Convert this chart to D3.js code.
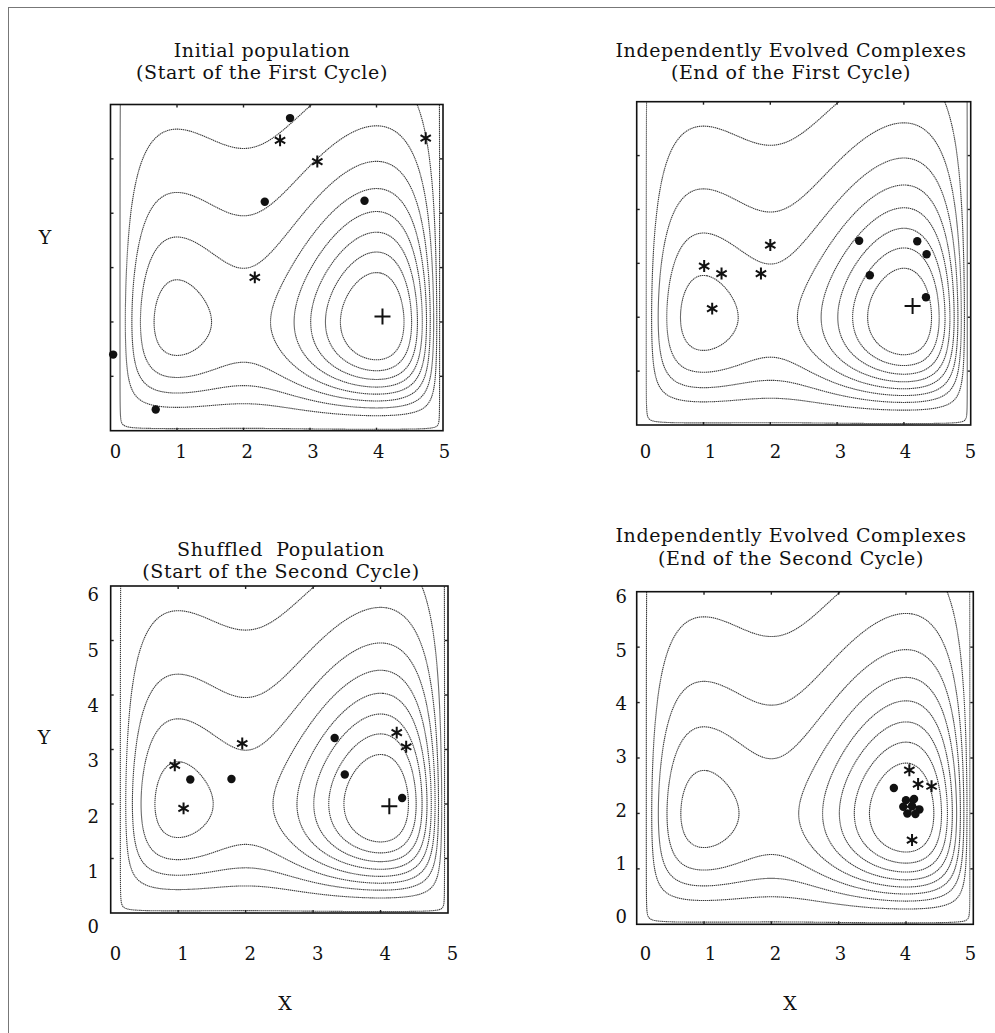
<!DOCTYPE html>
<html>
<head>
<meta charset="utf-8">
<script src="https://cdn.jsdelivr.net/npm/d3@7"></script>
<style>
  html, body { margin: 0; padding: 0; background: #fff; }
  svg text { font-family: "DejaVu Serif", serif; fill: #111; }
</style>
</head>
<body>
<svg id="chart" width="995" height="1033"></svg>
<script>
// ---- data -------------------------------------------------------------
const xDomain = [0, 5];
const yDomain = [0, 6];
// objective-function levels drawn as contour lines
const contourLevels = [0, -0.25, -0.5, -0.75, -1.0, -1.25, -1.5, -1.75, -2.0];
const xTickValues = [0, 1, 2, 3, 4, 5];
const yTickValues = [0, 1, 2, 3, 4, 5, 6];

const titleLines = [
  ["Initial population", "(Start of the First Cycle)"],
  ["Independently Evolved Complexes", "(End of the First Cycle)"],
  ["Shuffled  Population", "(Start of the Second Cycle)"],
  ["Independently Evolved Complexes", "(End of the Second Cycle)"]
];

// complex A members (filled dots) and complex B members (asterisks)
const dotsP1  = [[2.70, 5.75], [2.32, 4.21], [3.82, 4.23], [0.04, 1.40], [0.68, 0.39]];
const starsP1 = [[2.55, 5.34], [3.11, 4.95], [4.74, 5.38], [2.17, 2.82]];
const dotsP2  = [[3.33, 3.42], [4.20, 3.41], [4.34, 3.17], [3.49, 2.78], [4.33, 2.37]];
const starsP2 = [[2.00, 3.34], [1.01, 2.95], [1.27, 2.81], [1.86, 2.81], [1.13, 2.16]];
const dotsP3  = [[1.18, 2.45], [1.79, 2.46], [3.32, 3.21], [3.47, 2.54], [4.32, 2.11]];
const starsP3 = [[1.95, 3.11], [0.95, 2.71], [1.08, 1.92], [4.24, 3.31], [4.38, 3.05]];
const dotsP4  = [[3.82, 2.46], [4.00, 2.24], [4.12, 2.26], [3.96, 2.12], [4.09, 2.13],
                 [4.20, 2.07], [4.02, 2.00], [4.14, 1.99]];
const starsP4 = [[4.05, 2.78], [4.18, 2.53], [4.38, 2.49], [4.09, 1.52]];
// global optimum marker (+) per panel
const optimumMarks = [[4.09, 2.10], [4.13, 2.21], [4.13, 1.96], [4.07, 2.12]];

// ---- layout -------------------------------------------------------------
const panels = [
  { frame: [110.5, 104.5, 443, 430.7], titleX: 262, titleY: [57, 79],
    xLab: [115, 444], xLabY: 459, yLab: null, dots: dotsP1, stars: starsP1 },
  { frame: [636.7, 101.7, 970.7, 425], titleX: 791, titleY: [57, 79],
    xLab: [645, 970], xLabY: 459, yLab: null, dots: dotsP2, stars: starsP2 },
  { frame: [110.7, 586, 448, 913], titleX: 281, titleY: [556, 578],
    xLab: [115, 452], xLabY: 961, yLab: { x: 99, range: [927, 595] }, dots: dotsP3, stars: starsP3 },
  { frame: [636.7, 591.7, 973.3, 924.3], titleX: 791, titleY: [542, 565],
    xLab: [645, 970], xLabY: 961, yLab: { x: 627, range: [917, 597] }, dots: dotsP4, stars: starsP4 }
];

const svg = d3.select("#chart");

// figure border
svg.append("rect")
  .attr("x", 8.5).attr("y", 7.5).attr("width", 1100).attr("height", 1100)
  .attr("fill", "none").attr("stroke", "#777").attr("stroke-width", 1);

// ---- Hosaki objective surface sampled on a grid ---------------------------
function hosaki(x, y) {
  return (1 - 8 * x + 7 * x * x - (7 / 3) * x ** 3 + 0.25 * x ** 4) * y * y * Math.exp(-y);
}
const step = 0.01, gx0 = -0.1, gy0 = -0.1;
const nx = Math.round((5.1 - gx0) / step) + 1;
const ny = Math.round((6.1 - gy0) / step) + 1;
const grid = new Float64Array(nx * ny);
for (let j = 0; j < ny; j++) {
  for (let i = 0; i < nx; i++) {
    grid[j * nx + i] = -hosaki(gx0 + i * step, gy0 + j * step);
  }
}
const thresholds = contourLevels.map(l => (l === 0 ? 0.003 : -l));
const contourSets = d3.contours().size([nx, ny]).thresholds(thresholds)(grid);

const line = d3.line();

panels.forEach((p, k) => {
  const [fx0, fy0, fx1, fy1] = p.frame;
  const x = d3.scaleLinear().domain(xDomain).range([fx0, fx1]);
  const y = d3.scaleLinear().domain(yDomain).range([fy1, fy0]);
  const g = svg.append("g");

  const clipId = "clip" + k;
  svg.append("clipPath").attr("id", clipId)
    .append("rect").attr("x", fx0).attr("y", fy0)
    .attr("width", fx1 - fx0).attr("height", fy1 - fy0);

  // contour lines
  const toPx = c => [x(gx0 + (c[0] - 0.5) * step), y(gy0 + (c[1] - 0.5) * step)];
  const cg = g.append("g").attr("clip-path", `url(#${clipId})`);
  contourSets.forEach(mp => {
    mp.coordinates.forEach(poly => poly.forEach(ring => {
      cg.append("path")
        .attr("d", line(ring.map(toPx)) + "Z")
        .attr("fill", "none")
        .attr("stroke", "#3c3c3c")
        .attr("stroke-width", 1.1)
        .attr("stroke-dasharray", "1.4 0.6");
    }));
  });

  // frame
  g.append("rect")
    .attr("x", fx0).attr("y", fy0).attr("width", fx1 - fx0).attr("height", fy1 - fy0)
    .attr("fill", "none").attr("stroke", "#111").attr("stroke-width", 1.6);

  // inner tick marks on all four sides
  const innerX = xTickValues.slice(1, -1), innerY = yTickValues.slice(1, -1);
  const tickG = g.append("g").attr("stroke", "#222").attr("stroke-width", 1.4);
  innerX.forEach(v => {
    tickG.append("line").attr("x1", x(v)).attr("x2", x(v)).attr("y1", fy0).attr("y2", fy0 + 3);
    tickG.append("line").attr("x1", x(v)).attr("x2", x(v)).attr("y1", fy1).attr("y2", fy1 - 3);
  });
  innerY.forEach(v => {
    tickG.append("line").attr("y1", y(v)).attr("y2", y(v)).attr("x1", fx0).attr("x2", fx0 + 3);
    tickG.append("line").attr("y1", y(v)).attr("y2", y(v)).attr("x1", fx1).attr("x2", fx1 - 3);
  });

  // x tick labels
  const xl = d3.scaleLinear().domain(xDomain).range(p.xLab);
  const xAxis = g.append("g").attr("transform", `translate(0,${p.xLabY - 14})`)
    .call(d3.axisBottom(xl).tickValues(xTickValues).tickSize(0).tickPadding(0).tickFormat(d3.format("d")));
  xAxis.select(".domain").remove();
  xAxis.selectAll("text").attr("font-size", 18).attr("font-family", "DejaVu Serif")
    .attr("fill", "#111").attr("dy", "0.71em");

  // y tick labels
  if (p.yLab) {
    const yl = d3.scaleLinear().domain(yDomain).range(p.yLab.range);
    const yAxis = g.append("g").attr("transform", `translate(${p.yLab.x},0)`)
      .call(d3.axisLeft(yl).tickValues(yTickValues).tickSize(0).tickPadding(0).tickFormat(d3.format("d")));
    yAxis.select(".domain").remove();
    yAxis.selectAll("text").attr("font-size", 18).attr("font-family", "DejaVu Serif").attr("fill", "#111");
  }

  // titles
  titleLines[k].forEach((t, i) => {
    g.append("text").attr("x", p.titleX).attr("y", p.titleY[i])
      .attr("text-anchor", "middle").attr("font-size", 19)
      .attr("letter-spacing", 0.6)
      .style("white-space", "pre").text(t);
  });

  // population members
  g.append("g").selectAll("circle").data(p.dots).join("circle")
    .attr("cx", d => x(d[0])).attr("cy", d => y(d[1])).attr("r", 4.2).attr("fill", "#111");
  const star = d3.symbol().type(d3.symbolAsterisk).size(100);
  g.append("g").selectAll("path").data(p.stars).join("path")
    .attr("transform", d => `translate(${x(d[0])},${y(d[1])})`)
    .attr("d", star).attr("fill", "none").attr("stroke", "#111").attr("stroke-width", 2);

  // optimum marker
  const o = optimumMarks[k];
  const ox = x(o[0]), oy = y(o[1]);
  g.append("path")
    .attr("d", `M${ox - 8},${oy}H${ox + 8}M${ox},${oy - 8}V${oy + 8}`)
    .attr("stroke", "#111").attr("stroke-width", 2).attr("fill", "none");
});

// axis names
const axisNames = [
  { t: "Y", x: 45, y: 244 },
  { t: "Y", x: 44, y: 744 },
  { t: "X", x: 285, y: 1010 },
  { t: "X", x: 790, y: 1010 }
];
svg.append("g").selectAll("text").data(axisNames).join("text")
  .attr("x", d => d.x).attr("y", d => d.y).attr("text-anchor", "middle")
  .attr("font-size", 19).text(d => d.t);
</script>
</body>
</html>
